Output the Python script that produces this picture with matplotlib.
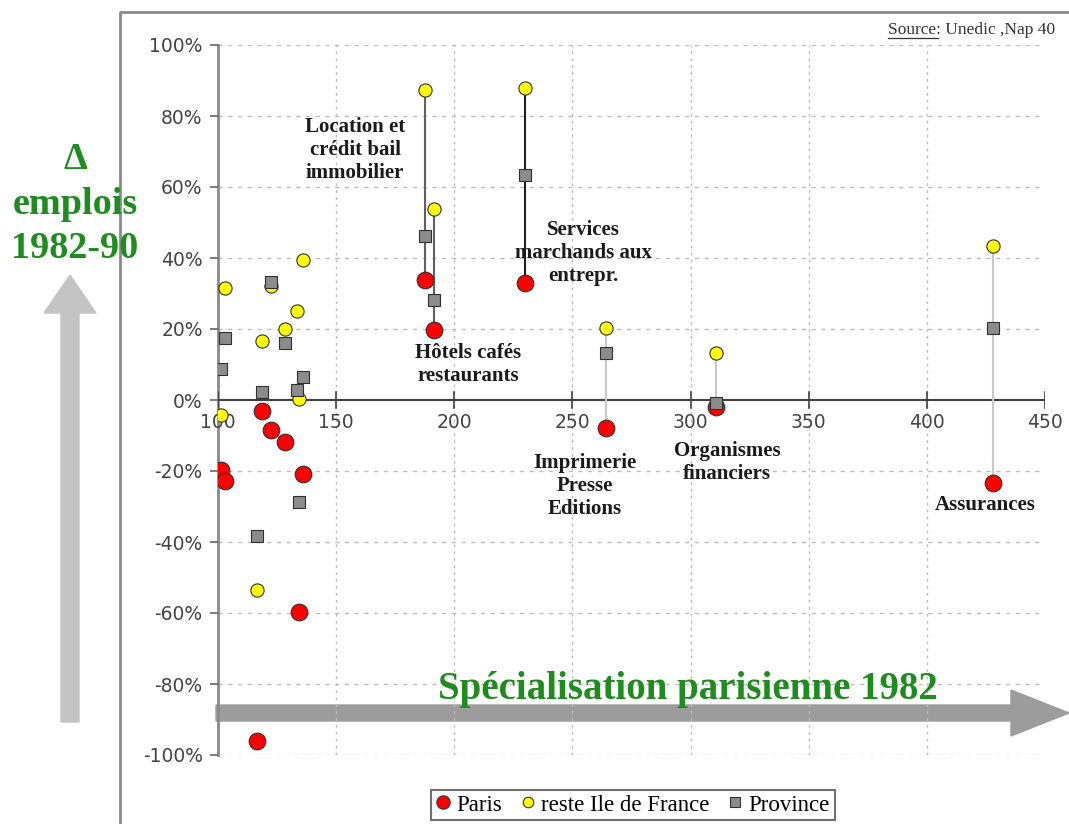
import numpy as np
import matplotlib
matplotlib.use("Agg")
import matplotlib.pyplot as plt
from matplotlib.patches import Polygon
from matplotlib.lines import Line2D
from matplotlib.transforms import IdentityTransform

# Spécialisation parisienne 1982 (indice) par secteur
specialisation = [101.3, 103.0, 116.5, 118.6, 122.4, 128.4, 133.4, 134.3, 136.0,
                  187.6, 191.4, 229.9, 264.2, 310.7, 428.0]
# Evolution des emplois 1982-90 (%)
paris = [-19.7, -22.8, -96.0, -3.1, -8.4, -11.8, np.nan, -59.6, -20.8,
         33.8, 19.7, 32.9, -7.9, -2.0, -23.3]
reste_idf = [-4.2, 31.5, -53.4, 16.6, 32.0, 20.0, 25.0, 0.3, 39.4,
             87.2, 53.7, 88.0, 20.3, 13.2, 43.3]
province = [8.7, 17.4, -38.3, 2.2, 33.2, 16.0, 2.8, -28.7, 6.5,
            46.1, 28.1, 63.3, 13.2, -0.8, 20.3]

# named sectors: index into the arrays, label, label position (data coords)
named_idx = [9, 10, 11, 12, 13, 14]
named_labels = ["Location et\ncrédit bail\nimmobilier", "Hôtels cafés\nrestaurants",
                "Services\nmarchands aux\nentrepr.", "Imprimerie\nPresse\nEditions",
                "Organismes\nfinanciers", "Assurances"]
label_x = [158, 206, 254.5, 255.3, 315.4, 424.6]
label_y = [70.3, 10.1, 41.4, -24.2, -17.7, -29.5]
line_colors = ["#606060", "#606060", "#202020", "#c8c8c8", "#c8c8c8", "#c8c8c8"]

x_ticks = [100, 150, 200, 250, 300, 350, 400, 450]
y_ticks = [-100, -80, -60, -40, -20, 0, 20, 40, 60, 80, 100]

W, H = 1069, 824
serif = "Liberation Serif"
green = "#1e8c1e"

fig = plt.figure(figsize=(W / 100, H / 100), dpi=100)
ax = fig.add_axes([218 / W, 1 - 755 / H, 827 / W, 710 / H])
ax.set_facecolor("none")
ax.set_xlim(100, 450)
ax.set_ylim(-100, 100)


def px(x, y):
    return (x, H - y)


# frame of the chart area
fig.add_artist(Line2D([120, 120, W + 5], [-5, H - 12, H - 12], color="#8a8a8a", lw=2,
                      transform=IdentityTransform(), zorder=-2))

# grid
for y in y_ticks:
    if y != 0:
        ax.plot([100, 450], [y, y], color="#bdbdbd", lw=1, ls=(0, (3, 4)), zorder=0)
for x in x_ticks[1:-1]:
    ax.plot([x, x], [-100, 100], color="#bdbdbd", lw=1, ls=(0, (2, 3)), zorder=0)

# axes lines
for s in ax.spines.values():
    s.set_visible(False)
ax.plot([100, 100], [-100, 100], color="#8a8a8a", lw=2, zorder=1, clip_on=False)
ax.axhline(0, color="#404040", lw=1.5, zorder=1)
ax.set_xticks([])
ax.set_yticks(y_ticks)
ax.set_yticklabels([f"{v}%" for v in y_ticks], fontsize=13.5, color="#444444")
ax.tick_params(axis="y", length=6, width=1.2, color="#666666", pad=5)
for x in x_ticks:
    ax.plot([x, x], [-2.2, 2.2], color="#404040", lw=1.2, zorder=1)
    ax.text(x, -3.8, str(x), ha="center", va="top", fontsize=13.5, color="#444444")

# high-low lines for named sectors
spec = np.array(specialisation)
vals = np.vstack([paris, reste_idf, province])
for i, c in zip(named_idx, line_colors):
    col = vals[:, i]
    ax.plot([spec[i], spec[i]], [np.nanmin(col), np.nanmax(col)], color=c, lw=1.5, zorder=2)

ax.plot(spec, paris, "o", ms=12, mfc="#ff0000", mec="#303030", mew=0.8, ls="none",
        zorder=3, label="Paris")
ax.plot(spec, reste_idf, "o", ms=9.5, mfc="#ffff00", mec="#303030", mew=0.8, ls="none",
        zorder=4, label="reste Ile de France")
ax.plot(spec, province, "s", ms=8.5, mfc="#8c8c8c", mec="#303030", mew=0.8, ls="none",
        zorder=5, label="Province")

for t, lx, ly in zip(named_labels, label_x, label_y):
    ax.text(lx, ly, t, ha="center", va="center", fontsize=15, fontweight="bold",
            family=serif, color="#1a1a1a", linespacing=1.2, zorder=6)


# big arrows (pixel coords)
def arrow(x0, y0, x1, y1, shaft, head_w, head_l, color):
    p0 = np.array(px(x0, y0), float)
    p1 = np.array(px(x1, y1), float)
    d = (p1 - p0) / np.linalg.norm(p1 - p0)
    n = np.array([-d[1], d[0]])
    b = p1 - d * head_l
    pts = [p0 + n * shaft / 2, b + n * shaft / 2, b + n * head_w / 2, p1,
           b - n * head_w / 2, b - n * shaft / 2, p0 - n * shaft / 2]
    fig.add_artist(Polygon(pts, closed=True, color=color, transform=IdentityTransform(),
                           zorder=-1))


arrow(70, 722, 70, 275, 18, 52, 38, "#c4c4c4")
arrow(216, 713, 1069, 713, 16, 46, 58, "#9c9c9c")

fig.text(75 / W, 1 - 204 / H, "Δ\nemplois\n1982-90", ha="center", va="center",
         fontsize=27.5, fontweight="bold", family=serif, color=green, linespacing=1.36)
fig.text(688 / W, 1 - 690 / H, "Spécialisation parisienne 1982", ha="center",
         va="center", fontsize=28, fontweight="bold", family=serif, color=green)

# source
fig.text(888 / W, 1 - 30 / H, "Source: Unedic ,Nap 40", ha="left", va="center",
         fontsize=12.5, family=serif, color="#333333")
fig.add_artist(Line2D([888, 938], [H - 38, H - 38], color="#333333", lw=0.9,
                      transform=IdentityTransform()))

leg = fig.legend(loc="center", bbox_to_anchor=(633 / W, 1 - 805 / H), ncol=3,
                 prop={"family": serif, "size": 16.5}, markerscale=0.8,
                 handlelength=0.6, handletextpad=0.3, columnspacing=0.8,
                 borderpad=0.2, fancybox=False, framealpha=1, edgecolor="#707070")
leg.get_frame().set_linewidth(1.5)

fig.savefig("out.png", dpi=100)
